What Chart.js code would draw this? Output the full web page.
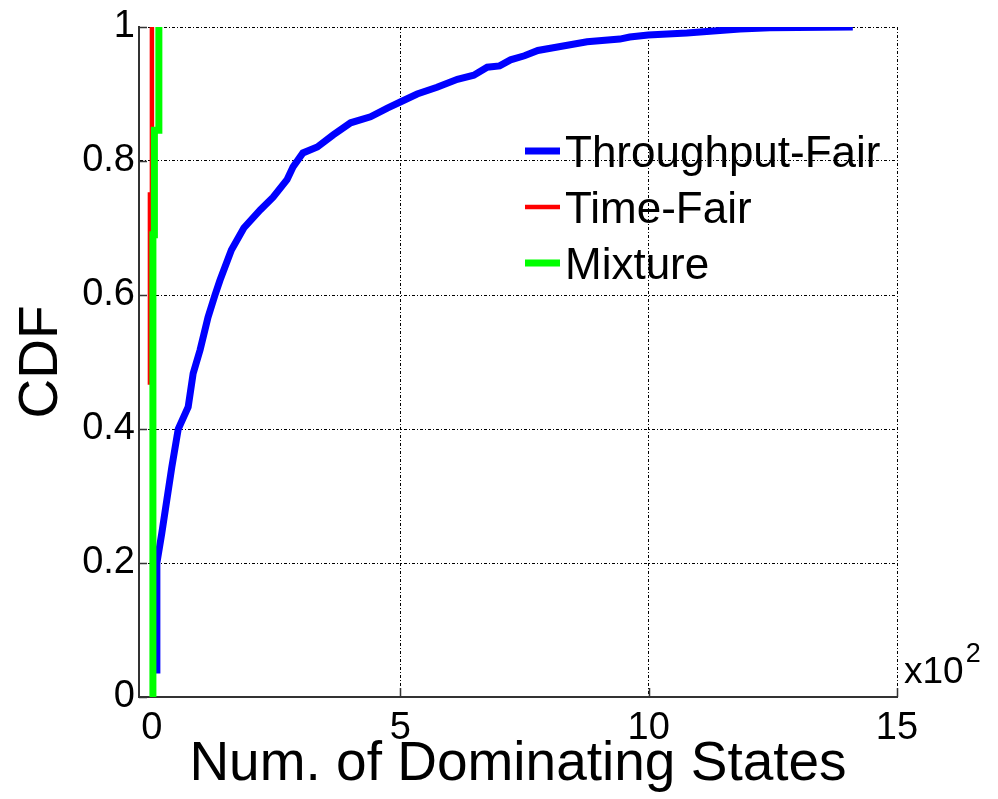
<!DOCTYPE html>
<html>
<head>
<meta charset="utf-8">
<script src="https://cdn.jsdelivr.net/npm/chart.js@4/dist/chart.umd.min.js"></script>
<style>
html,body{margin:0;padding:0;background:#fff;}
#wrap{width:998px;height:799px;}
</style>
</head>
<body>
<div id="wrap"><canvas id="c" width="998" height="799"></canvas></div>
<script>
// ---- data (x values in hundreds of states) ----
const xAxisTitle = 'Num. of Dominating States';
const yAxisTitle = 'CDF';
const xScaleNote = ['x10', '2'];
const seriesNames = ['Throughput-Fair', 'Time-Fair', 'Mixture'];
const seriesColors = ['#0000ff', '#ff0000', '#00ff00'];
const xTicks = [0, 5, 10, 15];
const xTickLabels = ['0', '5', '10', '15'];
const yTicks = [0, 0.2, 0.4, 0.6, 0.8, 1];
const yTickLabels = ['0', '0.2', '0.4', '0.6', '0.8', '1'];

const throughputX = [0.1, 0.1, 0.2, 0.3, 0.4, 0.53, 0.73, 0.83, 0.97, 1.13, 1.27, 1.37, 1.6, 1.85, 2.18, 2.44, 2.72, 2.84, 3.04, 3.33, 3.65, 4.0, 4.4, 4.74, 5.0, 5.34, 5.74, 6.15, 6.48, 6.75, 7.0, 7.22, 7.5, 7.77, 8.08, 8.76, 9.42, 9.62, 9.99, 10.77, 11.3, 11.84, 12.44, 14.11];
const throughputCdf = [0.035, 0.2, 0.245, 0.294, 0.343, 0.4, 0.433, 0.483, 0.518, 0.567, 0.6, 0.622, 0.667, 0.7, 0.727, 0.746, 0.772, 0.791, 0.812, 0.821, 0.839, 0.857, 0.866, 0.879, 0.888, 0.9, 0.91, 0.922, 0.928, 0.94, 0.942, 0.951, 0.957, 0.965, 0.969, 0.978, 0.982, 0.985, 0.988, 0.991, 0.994, 0.997, 0.999, 1.0];

const timeFairX = [-0.04, -0.04, 0.0];
const timeFairCdf = [0.466, 0.75, 1.0];

const mixtureX = [0.02, 0.02, 0.05, 0.14];
const mixtureCdf = [0, 0.69, 0.846, 1.0];

const FONT = "'Liberation Sans', Arial, Helvetica, sans-serif";

function toPoints(xs, ys) { return xs.map((x, i) => ({ x: x, y: ys[i] })); }

const decor = {
  id: 'decor',
  beforeDatasetsDraw(chart) {
    const { ctx, chartArea: a, scales: { x, y } } = chart;
    ctx.save();
    ctx.strokeStyle = '#333';
    ctx.lineWidth = 1.5;
    ctx.setLineDash([]);
    ctx.beginPath();
    xTicks.forEach(v => {
      const px = Math.round(x.getPixelForValue(v)) + 0.5;
      ctx.moveTo(px, a.bottom);
      ctx.lineTo(px, a.bottom - 9);
    });
    yTicks.forEach(v => {
      const py = Math.round(y.getPixelForValue(v)) + 0.5;
      ctx.moveTo(a.left, py);
      ctx.lineTo(a.left + 8, py);
    });
    ctx.stroke();
    ctx.restore();
  },
  afterDraw(chart) {
    const { ctx, chartArea: a } = chart;
    ctx.save();
    // exponent note
    ctx.fillStyle = '#000';
    ctx.textBaseline = 'alphabetic';
    ctx.textAlign = 'left';
    ctx.font = '37px ' + FONT;
    const nx = a.right + 7, ny = a.bottom - 14;
    ctx.fillText(xScaleNote[0], nx, ny);
    const w = ctx.measureText(xScaleNote[0]).width;
    ctx.font = '27px ' + FONT;
    ctx.fillText(xScaleNote[1], nx + w + 2, ny - 21);
    // legend
    const lx = a.left + 386, ly0 = a.top + 124, dy = 56;
    chart.data.datasets.forEach((ds, i) => {
      const yy = ly0 + i * dy;
      ctx.strokeStyle = ds.borderColor;
      ctx.lineWidth = ds.borderWidth;
      ctx.lineCap = 'butt';
      ctx.beginPath();
      ctx.moveTo(lx, yy);
      ctx.lineTo(lx + 35, yy);
      ctx.stroke();
      ctx.fillStyle = '#000';
      ctx.font = '44px ' + FONT;
      ctx.fillText(ds.label, lx + 40, yy + 16);
    });
    ctx.restore();
  }
};

new Chart(document.getElementById('c').getContext('2d'), {
  type: 'line',
  data: {
    datasets: [
      { label: seriesNames[0], data: toPoints(throughputX, throughputCdf), borderColor: seriesColors[0], borderWidth: 7, order: 3 },
      { label: seriesNames[1], data: toPoints(timeFairX, timeFairCdf), borderColor: seriesColors[1], borderWidth: 4.5, stepped: true, order: 2 },
      { label: seriesNames[2], data: toPoints(mixtureX, mixtureCdf), borderColor: seriesColors[2], borderWidth: 7, stepped: true, order: 1 }
    ]
  },
  options: {
    responsive: false,
    animation: false,
    devicePixelRatio: 1,
    elements: {
      point: { radius: 0, hoverRadius: 0 },
      line: { tension: 0, fill: false, borderJoinStyle: 'miter', borderCapStyle: 'butt' }
    },
    layout: { padding: { left: 0, right: 101, top: 27, bottom: 0 } },
    plugins: { legend: { display: false }, tooltip: { enabled: false } },
    scales: {
      x: {
        type: 'linear', min: -0.26, max: 15,
        afterBuildTicks: s => { s.ticks = xTicks.map(v => ({ value: v })); },
        afterFit: s => { s.height = 102; },
        ticks: {
          font: { family: FONT, size: 38 }, color: '#000', padding: 9,
          maxRotation: 0, autoSkip: false,
          callback: (v, i) => xTickLabels[i]
        },
        grid: { color: '#000', lineWidth: 1, drawTicks: false },
        border: { display: true, color: '#333', width: 2, dash: [3, 2, 1, 2] },
        title: { display: true, text: xAxisTitle, color: '#000', font: { family: FONT, size: 55, lineHeight: 1 }, padding: { top: 0, bottom: 7 } }
      },
      y: {
        type: 'linear', min: 0, max: 1,
        afterBuildTicks: s => { s.ticks = yTicks.map(v => ({ value: v })); },
        afterFit: s => { s.width = 139; },
        ticks: {
          font: { family: FONT, size: 38 }, color: '#000', padding: 4,
          autoSkip: false,
          callback: (v, i) => yTickLabels[i]
        },
        grid: { color: '#000', lineWidth: 1, drawTicks: false },
        border: { display: true, color: '#333', width: 2, dash: [3, 2, 1, 2] },
        title: { display: true, text: yAxisTitle, color: '#000', font: { family: FONT, size: 55, lineHeight: 1 }, padding: { top: 14, bottom: 0 } }
      }
    }
  },
  plugins: [decor]
});
</script>
</body>
</html>
